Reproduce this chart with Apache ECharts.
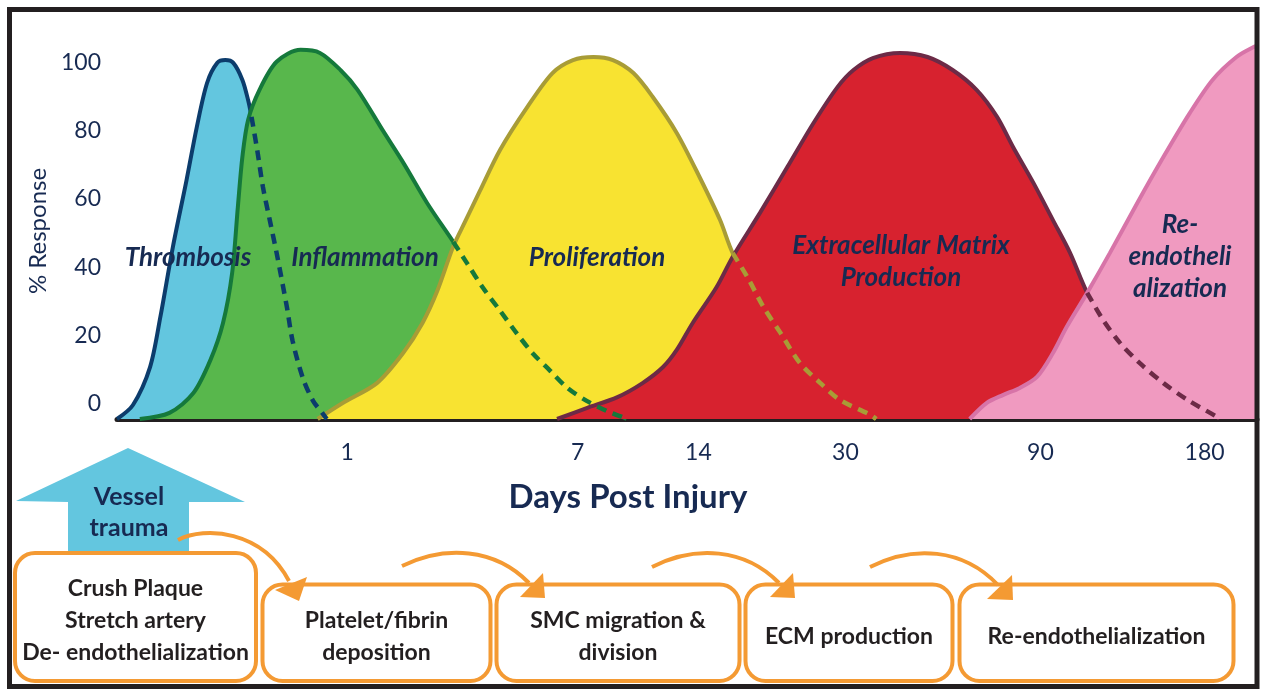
<!DOCTYPE html>
<html>
<head>
<meta charset="utf-8">
<script src="https://cdn.jsdelivr.net/npm/echarts@6/dist/echarts.min.js"></script>
<style>
html,body{margin:0;padding:0;background:#fff;}
#chart{width:1264px;height:696px;}
</style>
</head>
<body>
<div id="chart"></div>
<script>
// ---- data (x in schematic timeline units 0-100, y in % response) ----
const phaseNames = ['Thrombosis', 'Inflammation', 'Proliferation', 'Extracellular Matrix\nProduction', 'Re-\nendotheli\nalization'];

const thrombosisSolid = [[0,0],[1.4,4.1],[2.9,15.2],[3.8,29.8],[4.9,50.3],[6.1,69.9],[7.0,85.4],[7.9,98.3],[8.8,104.2],[9.5,105.0],[10.2,104.2],[11.0,99.2],[11.5,93.3],[11.8,88.4]];
const thrombosisFade = [[11.8,88.4],[12.3,78.7],[12.8,67.9],[13.4,58.2],[14.0,48.6],[14.9,32.8],[15.4,22.9],[16.3,12.0],[17.2,5.3],[18.0,1.8],[18.4,0]];

const inflammationSolid = [[2.0,0],[4.6,1.8],[6.7,7.6],[8.2,17.3],[9.3,28.1],[10.1,42.7],[10.6,62.0],[11.0,76.7],[11.5,87.5],[12.5,96.3],[14.0,104.5],[16.1,108.0],[17.8,107.1],[19.6,102.1],[21.1,96.3],[23.3,84.5],[25.2,74.5],[27.2,63.2],[29.5,51.8]];
const inflammationFade = [[29.5,51.8],[30.7,45.6],[32.1,38.4],[33.6,31.7],[35.1,24.9],[36.5,19.1],[38.0,14.1],[39.5,9.1],[41.2,5.3],[43.0,2.3],[44.3,0.6],[44.7,0]];

const proliferationSolid = [[17.6,0],[19.8,4.7],[22.8,10.5],[25.1,19.3],[26.8,28.1],[28.1,37.5],[29.5,50.5],[30.5,57.5],[31.8,66.5],[33.6,78.7],[36.0,91.3],[38.2,101.2],[40.0,105.0],[41.8,105.9],[43.5,105.0],[45.3,101.2],[47.0,94.2],[49.1,83.7],[51.1,70.8],[52.9,58.2],[54.0,48.6]];
const proliferationFade = [[54.0,48.6],[55.3,41.5],[56.7,32.8],[58.2,25.2],[59.9,16.4],[61.7,10.5],[63.4,5.6],[66.1,1.2],[66.6,0]];

const ecmSolid = [[38.6,0],[41.2,3.2],[43.9,6.4],[46.1,10.5],[47.9,15.2],[49.1,20.2],[50.5,28.1],[52.6,38.6],[54.0,47.4],[56.4,60.3],[58.8,73.7],[61.1,86.6],[63.2,97.1],[64.6,102.1],[66.3,105.6],[68.7,107.1],[71.1,105.9],[73.3,102.1],[75.4,96.3],[77.2,88.4],[78.6,79.6],[80.4,69.0],[82.1,58.2],[83.6,48.6],[85.1,36.9]];
const ecmFade = [[85.1,36.9],[86.5,29.0],[88.0,22.2],[89.7,16.4],[91.8,10.5],[93.9,5.6],[96.5,0.6],[96.7,0]];

const reendoSolid = [[74.8,0],[76.3,4.7],[77.7,7.0],[79.2,9.1],[80.7,12.3],[82.1,19.3],[83.3,26.9],[85.1,36.9],[87.1,48.6],[89.5,63.2],[91.8,76.7],[94.1,89.5],[96.1,99.2],[98.2,105.9],[99.7,108.8],[100,109.1]];

const dayTickPos = [20.2, 40.4, 51.0, 63.9, 81.0, 95.4];
const dayTickLabels = ['1', '7', '14', '30', '90', '180'];
const responseTicks = [0, 20, 40, 60, 80, 100];

const stepTexts = ['Crush Plaque\nStretch artery\nDe- endothelialization', 'Platelet/fibrin\ndeposition', 'SMC migration &\ndivision', 'ECM production', 'Re-endothelialization'];
const triggerText = 'Vessel\ntrauma';
const xTitle = 'Days Post Injury';
const yTitle = '% Response';

// ---- styles ----
const NAVY = '#172a52';
const ORANGE = '#f49a33';
const fills   = ['#63c6df', '#58b74c', '#f8e331', '#d7222f', '#f09ac0'];
const strokes = ['#0c3c6c', '#15793b', '#a89c36', '#6c2a46', '#d774a8'];
const FONT = 'Lato, "Open Sans", sans-serif';

function areaSeries(solid, fade, i) {
  return {
    type: 'line', data: fade ? solid.concat(fade.slice(1)) : solid,
    smooth: 0.3, symbol: 'none', silent: true,
    lineStyle: { color: strokes[i], width: 4 },
    areaStyle: { color: fills[i], opacity: 1 },
    z: 2 + i
  };
}
function fadeSeries(fade, i) {
  return {
    type: 'line', data: fade, smooth: 0.3, symbol: 'none', silent: true,
    lineStyle: { color: strokes[i], width: 4.5, type: [10, 7] },
    z: 10
  };
}

const chart = echarts.init(document.getElementById('chart'), null, { renderer: 'canvas' });

// graphic decorations
const graphics = [];
graphics.push({
  type: 'polygon', z: 50,
  shape: { points: [[128,448],[245,502],[189,502],[189,553],[68,553],[68,502],[16,501]] },
  style: { fill: '#63c6df' }
});
graphics.push({
  type: 'text', z: 60, x: 129, y: 512,
  style: { text: triggerText, font: 'bold 25px ' + FONT, fill: NAVY, align: 'center', verticalAlign: 'middle', lineHeight: 31 }
});
const boxes = [[15,553,241,128],[262.5,584.5,228,96.5],[496.5,584.5,243,96.5],[745.5,584.5,207,96.5],[959.5,584.5,274,96.5]];
const boxTextY = [621, 637, 637, 637, 637];
boxes.forEach((b, i) => {
  graphics.push({
    type: 'rect', z: 55,
    shape: { x: b[0], y: b[1], width: b[2], height: b[3], r: 20 },
    style: { fill: '#fff', stroke: ORANGE, lineWidth: 4 }
  });
  graphics.push({
    type: 'text', z: 60, x: b[0] + b[2] / 2, y: boxTextY[i],
    style: { text: stepTexts[i], font: 'bold 23px ' + FONT, fill: '#231f20', align: 'center', verticalAlign: 'middle', lineHeight: 32 }
  });
});
const arrows = [
  { p: [[178,540],[205,526],[262,530],[289,581]], head: [[275,590],[307,577],[299,601]] },
  { p: [[402,566],[445,545],[495,548],[529,583]], head: [[520,597],[543,573],[545,598]] },
  { p: [[652,567],[695,545],[745,548],[779,583]], head: [[770,597],[793,573],[795,598]] },
  { p: [[870,567],[913,545],[963,548],[998,585]], head: [[987,599],[1012,575],[1013,600]] }
];
arrows.forEach(a => {
  graphics.push({
    type: 'bezierCurve', z: 70,
    shape: { x1: a.p[0][0], y1: a.p[0][1], cpx1: a.p[1][0], cpy1: a.p[1][1], cpx2: a.p[2][0], cpy2: a.p[2][1], x2: a.p[3][0], y2: a.p[3][1] },
    style: { stroke: ORANGE, lineWidth: 4, fill: null }
  });
  graphics.push({ type: 'polygon', z: 71, shape: { points: a.head }, style: { fill: ORANGE } });
});
const labelPos = [[188,258],[365,258],[597,258],[901,262],[1180,257]];
phaseNames.forEach((t, i) => {
  graphics.push({
    type: 'text', z: 80, x: labelPos[i][0], y: labelPos[i][1],
    style: { text: t, font: 'italic bold 26px ' + FONT, fill: NAVY, align: 'center', verticalAlign: 'middle', lineHeight: 32 }
  });
});
graphics.push({
  type: 'rect', z: 100,
  shape: { x: 9.5, y: 9.5, width: 1247.5, height: 677 },
  style: { fill: null, stroke: '#231f20', lineWidth: 5 }
});

chart.setOption({
  animation: false,
  backgroundColor: '#fff',
  grid: { left: 117, right: 7, top: 43, bottom: 277 },
  xAxis: {
    type: 'value', min: 0, max: 100,
    axisLine: { show: true, onZero: false, lineStyle: { color: '#231f20', width: 5 } },
    axisTick: { show: false },
    splitLine: { show: false },
    axisLabel: {
      customValues: dayTickPos,
      formatter: v => dayTickLabels[dayTickPos.indexOf(v)] || '',
      color: NAVY, fontSize: 23, fontFamily: FONT, margin: 22
    },
    name: xTitle, nameLocation: 'middle', nameGap: 62,
    nameTextStyle: { color: NAVY, fontSize: 33, fontWeight: 'bold', fontFamily: FONT, padding: [0, 118, 0, 0] }
  },
  yAxis: {
    type: 'value', min: 0, max: 110,
    axisLine: { show: false }, axisTick: { show: false }, splitLine: { show: false },
    axisLabel: {
      customValues: responseTicks,
      color: NAVY, fontSize: 23, fontFamily: FONT, margin: 16,
      verticalAlign: 'bottom', lineHeight: 30
    },
    name: yTitle, nameLocation: 'middle', nameGap: 64, nameRotate: 90,
    nameTextStyle: { color: NAVY, fontSize: 24, fontFamily: FONT }
  },
  series: [
    areaSeries(thrombosisSolid, thrombosisFade, 0),
    areaSeries(inflammationSolid, inflammationFade, 1),
    areaSeries(proliferationSolid, proliferationFade, 2),
    areaSeries(ecmSolid, ecmFade, 3),
    areaSeries(reendoSolid, null, 4),
    fadeSeries(thrombosisFade, 0),
    fadeSeries(inflammationFade, 1),
    fadeSeries(proliferationFade, 2),
    fadeSeries(ecmFade, 3)
  ],
  graphic: graphics
});
</script>
</body>
</html>
